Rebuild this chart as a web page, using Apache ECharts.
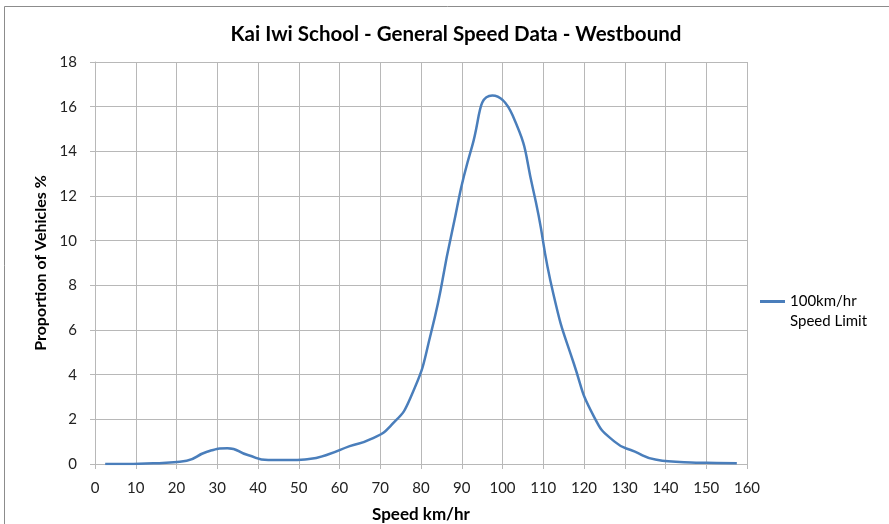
<!DOCTYPE html>
<html>
<head>
<meta charset="utf-8">
<script src="https://cdn.jsdelivr.net/npm/echarts@6/dist/echarts.min.js"></script>
<style>
  html, body { margin: 0; padding: 0; background: #fff; }
  #chart { width: 889px; height: 524px; }
</style>
</head>
<body>
<div id="chart"></div>
<script>
// speed bin midpoints (km/hr)
var speeds = [2.5, 7.5, 12.5, 17.5, 22.5, 27.5, 32.5, 37.5, 42.5, 47.5, 52.5, 57.5,
  62.5, 67.5, 72.5, 77.5, 82.5, 87.5, 92.5, 97.5, 102.5, 107.5, 112.5, 117.5,
  122.5, 127.5, 132.5, 137.5, 142.5, 147.5, 152.5, 157.5];
// proportion of vehicles %
var proportions = [0, 0, 0.02, 0.06, 0.15, 0.55, 0.7, 0.4, 0.18, 0.18, 0.22, 0.45,
  0.8, 1.1, 1.7, 3.0, 5.9, 10.3, 14.2, 16.5, 15.6, 12.3, 7.6, 4.5,
  2.1, 1.0, 0.55, 0.2, 0.1, 0.06, 0.05, 0.03];
var xTicks = [0, 10, 20, 30, 40, 50, 60, 70, 80, 90, 100, 110, 120, 130, 140, 150, 160];
var yTicks = [0, 2, 4, 6, 8, 10, 12, 14, 16, 18];

var seriesName = '100km/hr';
var seriesNameLine2 = 'Speed Limit';

var chart = echarts.init(document.getElementById('chart'), null, { renderer: 'canvas' });

var points = [];
for (var i = 0; i < speeds.length; i++) {
    points.push([speeds[i], proportions[i]]);
}

var option = {
    backgroundColor: '#fff',
    textStyle: { fontFamily: 'Lato' },
    title: {
        text: 'Kai Iwi School - General Speed Data - Westbound',
        left: 451,
        top: 19,
        textAlign: 'center',
        textStyle: { fontFamily: 'Lato', fontSize: 20.5, fontWeight: 'bold', color: '#000' }
    },
    graphic: [{
        type: 'rect',
        shape: { x: 4.5, y: 6.5, width: 900, height: 540 },
        style: { fill: null, stroke: '#8c8c8c', lineWidth: 1 },
        silent: true
    }, {
        // second line of the legend label
        type: 'text',
        left: 790,
        top: 314,
        style: { text: seriesNameLine2, fontFamily: 'Lato', fontSize: 15, fill: '#000' },
        silent: true
    }],
    legend: {
        left: 760,
        top: 294,
        padding: 0,
        itemWidth: 25,
        itemHeight: 3,
        itemGap: 0,
        icon: 'rect',
        textStyle: { fontFamily: 'Lato', fontSize: 15, color: '#000' },
        data: [seriesName]
    },
    grid: {
        left: 95,
        top: 62,
        width: 652,
        height: 402,
        containLabel: false,
        outerBoundsMode: 'none'
    },
    xAxis: {
        type: 'value',
        min: xTicks[0],
        max: xTicks[xTicks.length - 1],
        interval: 10,
        name: 'Speed km/hr',
        nameLocation: 'middle',
        nameGap: 42,
        nameTextStyle: { fontFamily: 'Lato', fontSize: 17, fontWeight: 'bold', color: '#000' },
        axisLine: { show: true, lineStyle: { color: '#b8b8b8', width: 1 } },
        axisTick: { show: true, length: 5, lineStyle: { color: '#b8b8b8' } },
        axisLabel: { margin: 17, fontFamily: 'Lato', fontSize: 15, color: '#222' },
        splitLine: { show: true, lineStyle: { color: '#b8b8b8', width: 1 } }
    },
    yAxis: {
        type: 'value',
        min: yTicks[0],
        max: yTicks[yTicks.length - 1],
        interval: 2,
        name: 'Proportion of Vehicles %',
        nameLocation: 'middle',
        nameGap: 41,
        nameTextStyle: { fontFamily: 'Lato', fontSize: 16, fontWeight: 'bold', color: '#000' },
        axisLine: { show: true, lineStyle: { color: '#b8b8b8', width: 1 } },
        axisTick: { show: true, length: 5, lineStyle: { color: '#b8b8b8' } },
        axisLabel: { margin: 18, fontFamily: 'Lato', fontSize: 15, color: '#222' },
        splitLine: { show: true, lineStyle: { color: '#b8b8b8', width: 1 } }
    },
    series: [{
        name: seriesName,
        type: 'line',
        smooth: 0.55,
        symbol: 'none',
        lineStyle: { color: '#4a7ebb', width: 2.5 },
        itemStyle: { color: '#4a7ebb' },
        data: points
    }]
};

chart.setOption(option);
window.addEventListener('resize', chart.resize);
</script>
</body>
</html>
